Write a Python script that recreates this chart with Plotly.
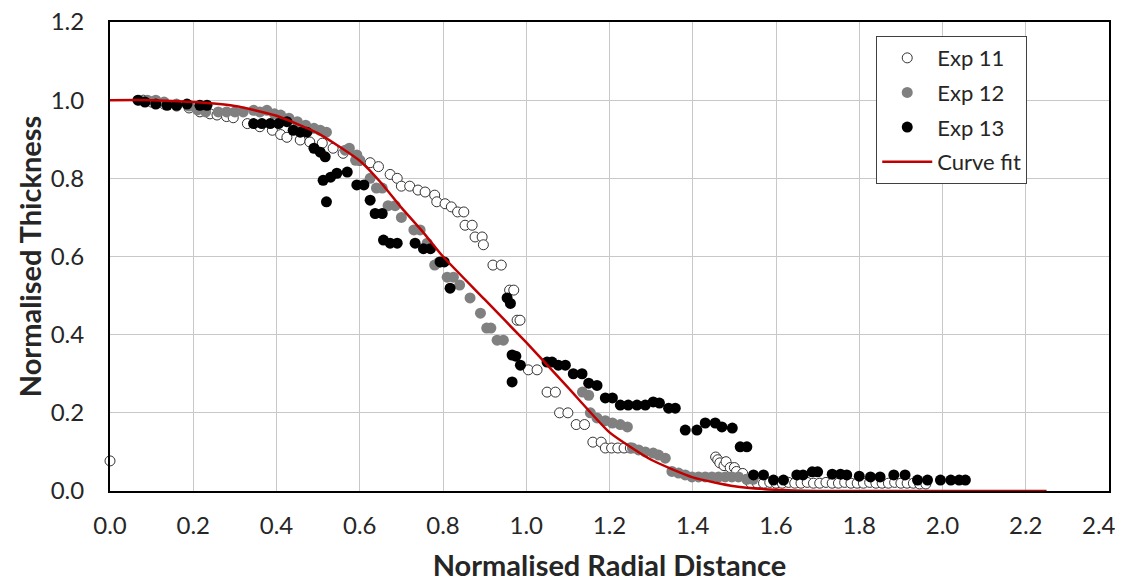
import plotly.graph_objects as go

# Exp 11 (open circles)
exp11_x = [0.0, 0.08, 0.10, 0.13, 0.16, 0.19, 0.216, 0.24, 0.257, 0.28, 0.296, 0.33, 0.36, 0.39, 0.41,
           0.425, 0.457, 0.48, 0.51, 0.536, 0.56, 0.60, 0.625, 0.645, 0.673, 0.69, 0.70, 0.72, 0.74,
           0.757, 0.78, 0.785, 0.805, 0.82, 0.835, 0.85, 0.853, 0.87, 0.877, 0.894, 0.897, 0.92, 0.94,
           0.96, 0.97, 0.978, 0.985, 1.005, 1.026, 1.05, 1.07, 1.08, 1.10, 1.12, 1.14, 1.16, 1.18,
           1.19, 1.205, 1.22, 1.235, 1.25, 1.455, 1.46, 1.465, 1.475, 1.48, 1.49, 1.50, 1.505, 1.52,
           1.53, 1.54, 1.555, 1.57, 1.585, 1.60, 1.615, 1.63, 1.645, 1.66, 1.675, 1.69, 1.705, 1.72,
           1.735, 1.75, 1.765, 1.78, 1.795, 1.81, 1.825, 1.84, 1.855, 1.87, 1.885, 1.90, 1.915, 1.93,
           1.945, 1.96]
exp11_y = [0.077, 1.0, 0.995, 0.99, 0.985, 0.98, 0.97, 0.965, 0.962, 0.958, 0.955, 0.94, 0.932, 0.923, 0.912,
           0.905, 0.898, 0.893, 0.89, 0.877, 0.864, 0.846, 0.84, 0.83, 0.81, 0.80, 0.78, 0.78, 0.77,
           0.765, 0.757, 0.74, 0.735, 0.727, 0.714, 0.714, 0.68, 0.68, 0.65, 0.65, 0.63, 0.578, 0.578,
           0.514, 0.514, 0.437, 0.437, 0.31, 0.31, 0.253, 0.253, 0.20, 0.20, 0.17, 0.17, 0.125, 0.125,
           0.11, 0.11, 0.11, 0.11, 0.11, 0.087, 0.08, 0.072, 0.065, 0.075, 0.06, 0.06, 0.05, 0.045,
           0.03, 0.02, 0.02, 0.02, 0.022, 0.02, 0.02, 0.022, 0.02, 0.02, 0.022, 0.02, 0.02, 0.022,
           0.02, 0.02, 0.022, 0.02, 0.02, 0.02, 0.022, 0.02, 0.02, 0.02, 0.022, 0.02, 0.02, 0.02,
           0.018, 0.018]

# Exp 12 (grey dots)
exp12_x = [0.07, 0.09, 0.11, 0.13, 0.16, 0.19, 0.21, 0.23, 0.26, 0.28, 0.30, 0.32, 0.345, 0.36, 0.377,
           0.395, 0.41, 0.43, 0.45, 0.47, 0.49, 0.505, 0.52, 0.565, 0.575, 0.593, 0.59, 0.60, 0.625,
           0.64, 0.654, 0.668, 0.685, 0.70, 0.73, 0.745, 0.762, 0.78, 0.79, 0.81, 0.825, 0.84, 0.865,
           0.89, 0.905, 0.915, 0.93, 0.945, 1.135, 1.15, 1.154, 1.17, 1.19, 1.207, 1.226, 1.243,
           1.255, 1.27, 1.286, 1.305, 1.318, 1.334, 1.35, 1.366, 1.382, 1.398, 1.414, 1.43, 1.446,
           1.462, 1.478, 1.494, 1.51, 1.53, 1.545]
exp12_y = [1.0, 1.0, 1.0, 0.995, 0.99, 0.985, 0.975, 0.97, 0.97, 0.97, 0.97, 0.97, 0.974, 0.97, 0.974,
           0.965, 0.962, 0.954, 0.945, 0.936, 0.928, 0.923, 0.918, 0.872, 0.877, 0.86, 0.846, 0.846, 0.80,
           0.775, 0.775, 0.73, 0.73, 0.70, 0.668, 0.668, 0.634, 0.578, 0.585, 0.547, 0.547, 0.527, 0.494,
           0.455, 0.417, 0.417, 0.386, 0.386, 0.253, 0.245, 0.20, 0.187, 0.18, 0.174, 0.17, 0.164,
           0.11, 0.105, 0.10, 0.097, 0.092, 0.084, 0.05, 0.046, 0.041, 0.036, 0.036, 0.036, 0.036,
           0.036, 0.036, 0.036, 0.036, 0.03, 0.03]

# Exp 13 (black dots)
exp13_x = [0.067, 0.084, 0.11, 0.137, 0.16, 0.185, 0.216, 0.233, 0.345, 0.365, 0.385, 0.405, 0.425, 0.44,
           0.457, 0.473, 0.49, 0.505, 0.517, 0.512, 0.53, 0.545, 0.57, 0.52, 0.593, 0.61, 0.625, 0.637,
           0.654, 0.657, 0.673, 0.69, 0.733, 0.753, 0.77, 0.793, 0.803, 0.817, 0.954, 0.962, 0.966,
           0.975, 0.986, 0.966, 1.05, 1.062, 1.077, 1.094, 1.113, 1.134, 1.15, 1.17, 1.19, 1.207,
           1.226, 1.245, 1.266, 1.286, 1.305, 1.32, 1.342, 1.358, 1.382, 1.41, 1.43, 1.454, 1.47,
           1.495, 1.514, 1.53, 1.546, 1.57, 1.594, 1.618, 1.65, 1.665, 1.687, 1.70, 1.735, 1.755,
           1.77, 1.80, 1.827, 1.85, 1.883, 1.91, 1.94, 1.964, 1.995, 2.02, 2.04, 2.055]
exp13_y = [1.0, 0.995, 0.99, 0.987, 0.987, 0.99, 0.987, 0.987, 0.94, 0.94, 0.94, 0.94, 0.945, 0.923,
           0.918, 0.918, 0.877, 0.867, 0.855, 0.795, 0.803, 0.813, 0.816, 0.74, 0.783, 0.783, 0.744, 0.71,
           0.71, 0.642, 0.634, 0.634, 0.634, 0.62, 0.62, 0.586, 0.586, 0.519, 0.494, 0.48, 0.348,
           0.345, 0.322, 0.279, 0.33, 0.33, 0.322, 0.322, 0.30, 0.30, 0.276, 0.27, 0.238, 0.238,
           0.22, 0.22, 0.22, 0.22, 0.228, 0.225, 0.212, 0.212, 0.156, 0.156, 0.174, 0.174, 0.164,
           0.161, 0.113, 0.113, 0.041, 0.041, 0.028, 0.028, 0.041, 0.041, 0.049, 0.049, 0.043, 0.043,
           0.041, 0.038, 0.036, 0.036, 0.041, 0.041, 0.028, 0.028, 0.028, 0.028, 0.028, 0.028]

# Curve fit
fit_x = [0.0, 0.1, 0.2, 0.3, 0.4, 0.5, 0.6, 0.65, 0.7, 0.75, 0.8, 0.9, 1.0, 1.1, 1.2, 1.3, 1.4, 1.5,
         1.6, 1.7, 1.8, 2.25]
fit_y = [1.0, 1.0, 0.995, 0.985, 0.96, 0.915, 0.845, 0.79, 0.725, 0.665, 0.60, 0.49, 0.38, 0.265,
         0.15, 0.08, 0.035, 0.012, 0.003, 0.0, 0.0, 0.0]

# x ticks; the last label sits at the very edge, so it is placed as an annotation nudged inwards
x_ticks = [0.0, 0.2, 0.4, 0.6, 0.8, 1.0, 1.2, 1.4, 1.6, 1.8, 2.0, 2.2]
x_last_tick = 2.4

font = "Lato, 'Open Sans', sans-serif"

fig = go.Figure()
fig.add_trace(go.Scatter(x=exp11_x, y=exp11_y, mode="markers", name="Exp 11", legendgroup="a",
                         marker=dict(size=10, color="white", line=dict(color="#333333", width=1)),
                         cliponaxis=False))
fig.add_trace(go.Scatter(x=exp12_x, y=exp12_y, mode="markers", name="Exp 12", legendgroup="b",
                         marker=dict(size=11, color="#808080"), cliponaxis=False))
fig.add_trace(go.Scatter(x=exp13_x, y=exp13_y, mode="markers", name="Exp 13", legendgroup="c",
                         marker=dict(size=11, color="black"), cliponaxis=False))
fig.add_trace(go.Scatter(x=fit_x, y=fit_y, mode="lines", name="Curve fit", legendgroup="d",
                         line=dict(color="#C00000", width=2.5, shape="spline", smoothing=0.5)))

axis_common = dict(showgrid=True, gridcolor="#C8C8C8", gridwidth=1, zeroline=False, automargin=False,
                   showline=True, linecolor="black", linewidth=2, mirror=True, ticks="",
                   tickfont=dict(family=font, size=24, color="#262626"), tickformat=".1f",
                   ticklabeloverflow="allow")

fig.update_xaxes(range=[0, 2.4], tickvals=x_ticks,
                 title=dict(text="<b>Normalised Radial Distance</b>", standoff=18,
                            font=dict(family=font, size=29, color="#262626")),
                 ticklabelstandoff=12, **axis_common)
fig.update_yaxes(range=[0, 1.2], dtick=0.2,
                 title=dict(text="<b>Normalised Thickness</b>", standoff=1,
                            font=dict(family=font, size=29, color="#262626")),
                 ticklabelstandoff=19, **axis_common)

fig.add_annotation(x=x_last_tick, xref="x", y=0, yref="paper", text=f"{x_last_tick:.1f}",
                   showarrow=False, xanchor="center", yanchor="middle", xshift=-10, yshift=-33,
                   font=dict(family=font, size=24, color="#262626"))

# the page body adds an 8 px offset, so the figure is 8 px smaller each way
fig.update_layout(
    width=1115, height=576,
    margin=dict(l=102, r=14, t=14, b=93),
    plot_bgcolor="white", paper_bgcolor="white",
    legend=dict(x=0.767, y=0.97, xanchor="left", yanchor="top", bordercolor="#404040", borderwidth=1,
                bgcolor="white", font=dict(family=font, size=22, color="#262626"),
                tracegroupgap=3, traceorder="grouped", itemwidth=50),
)

fig.write_html("out.html")
